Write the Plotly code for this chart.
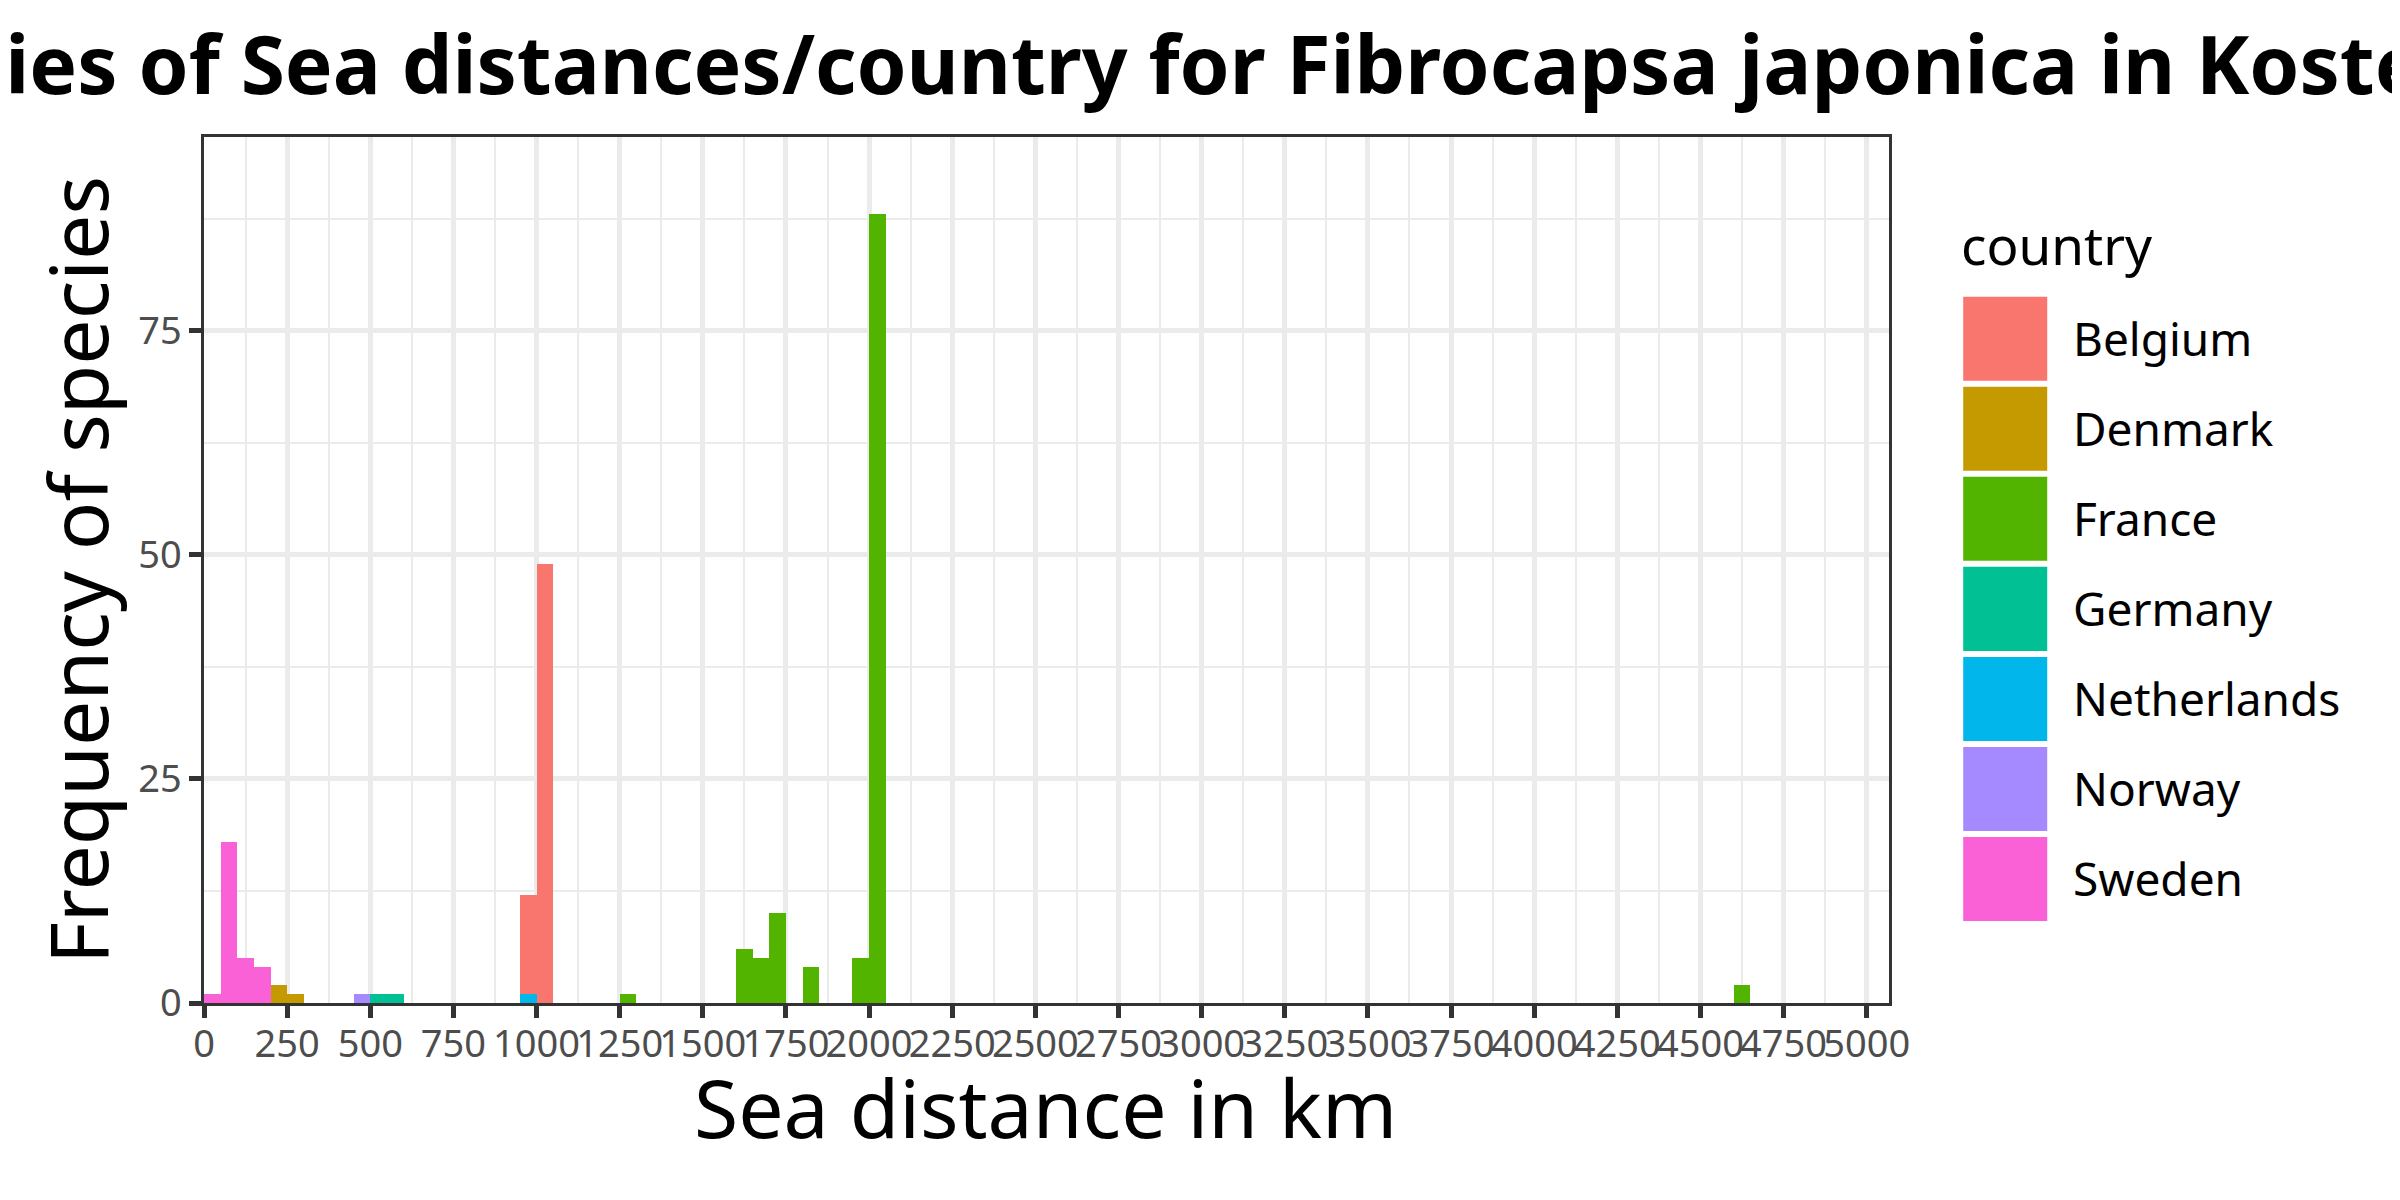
import plotly.graph_objects as go

FONT = "Noto Sans"
TITLE = "Frequencies of Sea distances/country for Fibrocapsa japonica in Kosterhavet"
X_TITLE = "Sea distance in km"
Y_TITLE = "Frequency of species"
LEGEND_TITLE = "country"

countries = ["Belgium", "Denmark", "France", "Germany", "Netherlands", "Norway", "Sweden"]
colors = ["#F8766D", "#C49A00", "#53B400", "#00C094", "#00B6EB", "#A58AFF", "#FB61D7"]

bin_width = [50]
belgium_x = [975, 1025]
belgium_y = [11, 49]
denmark_x = [225, 275]
denmark_y = [2, 1]
france_x = [1275, 1625, 1675, 1725, 1825, 1975, 2025, 4625]
france_y = [1, 6, 5, 10, 4, 5, 88, 2]
germany_x = [525, 575]
germany_y = [1, 1]
netherlands_x = [975]
netherlands_y = [1]
norway_x = [475]
norway_y = [1]
sweden_x = [25, 75, 125, 175]
sweden_y = [1, 18, 5, 4]

series_x = [belgium_x, denmark_x, france_x, germany_x, netherlands_x, norway_x, sweden_x]
series_y = [belgium_y, denmark_y, france_y, germany_y, netherlands_y, norway_y, sweden_y]

x_ticks = list(range(0, 5001, 250))
y_ticks = [0, 25, 50, 75]

W, H = 2400, 1200
OFF = 8  # page body margin
L, R, T, B = 204 - OFF, 1888.8 - OFF, 137.3 - OFF, 1003 - OFF

fig = go.Figure()
# ggplot stacks the first level on top, so draw in reverse order
for name, col, xs, ys in reversed(list(zip(countries, colors, series_x, series_y))):
    fig.add_trace(go.Bar(x=xs, y=ys, name=name, width=bin_width[0], marker=dict(color=col, line=dict(width=0)),
                         showlegend=False))

def px(x):
    return (x - OFF - L) / (R - L)
def py(y):
    return (B - (y - OFF)) / (B - T)

shapes = []
annotations = []
annotations.append(dict(text=LEGEND_TITLE, x=px(1959), y=py(245), xref="paper", yref="paper", xanchor="left",
                        yanchor="middle", showarrow=False, font=dict(family=FONT, size=53, color="black")))
for i, (name, col) in enumerate(zip(countries, colors)):
    top = 297 + 90 * i
    shapes.append(dict(type="rect", xref="paper", yref="paper", x0=px(1963), x1=px(2047), y0=py(top), y1=py(top + 84),
                       fillcolor=col, line=dict(width=0), layer="above"))
    annotations.append(dict(text=name, x=px(2071), y=py(top + 41), xref="paper", yref="paper", xanchor="left",
                            yanchor="middle", showarrow=False, font=dict(family=FONT, size=46, color="black")))
annotations.append(dict(text=X_TITLE, x=px(1045), y=py(1107), xref="paper", yref="paper", xanchor="center",
                        yanchor="middle", showarrow=False, font=dict(family=FONT, size=80.5, color="black")))

fig.update_layout(
    width=W, height=H, autosize=False, barmode="stack", bargap=0,
    paper_bgcolor="white", plot_bgcolor="white",
    margin=dict(l=L, r=W - R, t=T, b=H - B, pad=0),
    font=dict(family=FONT),
    title=dict(text="<b>" + TITLE + "</b>", x=1153 / W, xref="container", xanchor="center",
               y=1 - 58 / H, yref="container", yanchor="middle",
               font=dict(family=FONT, size=80.3, color="black")),
    shapes=shapes, annotations=annotations,
    xaxis=dict(range=[0, 5067], tickmode="array", tickvals=x_ticks, ticktext=[str(v) for v in x_ticks],
               ticks="outside", ticklen=12, tickwidth=4.5, tickcolor="#333333",
               tickfont=dict(family=FONT, size=38, color="#4D4D4D"), tickangle=0, ticklabelstandoff=-6,
               showgrid=True, gridcolor="#EBEBEB", gridwidth=4.5, zeroline=False,
               minor=dict(tickmode="array", tickvals=[125 + 250 * i for i in range(21)], showgrid=True,
                          gridcolor="#EBEBEB", gridwidth=2.2, ticks=""),
               showline=True, linecolor="#333333", linewidth=2.5, mirror=True),
    yaxis=dict(range=[0, 96.6], tickmode="array", tickvals=y_ticks,
               ticks="outside", ticklen=12, tickwidth=4.5, tickcolor="#333333",
               tickfont=dict(family=FONT, size=38, color="#4D4D4D"),
               showgrid=True, gridcolor="#EBEBEB", gridwidth=4.5, zeroline=False,
               minor=dict(tickmode="array", tickvals=[12.5, 37.5, 62.5, 87.5], showgrid=True,
                          gridcolor="#EBEBEB", gridwidth=2.2, ticks=""),
               showline=True, linecolor="#333333", linewidth=2.5, mirror=True,
               title=dict(text=Y_TITLE, font=dict(family=FONT, size=80.5, color="black"), standoff=3)),
)
fig.write_html("out.html")
